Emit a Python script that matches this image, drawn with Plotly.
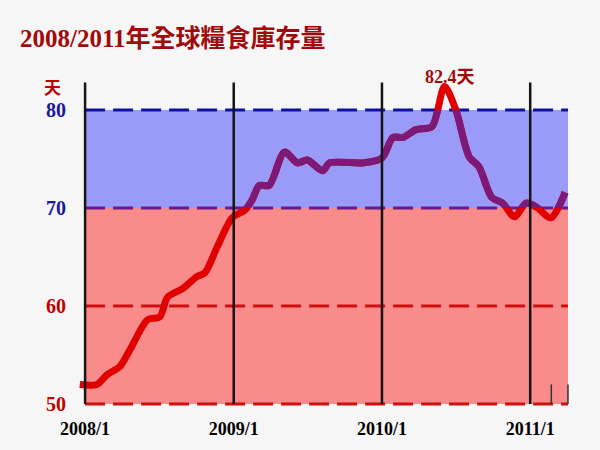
import plotly.graph_objects as go

# ---- data ----
dates = ["2007-12-19", "2008-01-30", "2008-02-24", "2008-03-26", "2008-04-20", "2008-06-03",
         "2008-07-03", "2008-07-22", "2008-08-29", "2008-10-02", "2008-10-22", "2008-11-21",
         "2008-12-28", "2009-01-29", "2009-02-15", "2009-03-05", "2009-03-29", "2009-05-06",
         "2009-06-07", "2009-07-01", "2009-08-08", "2009-08-25", "2009-11-15", "2010-01-01",
         "2010-01-28", "2010-02-22", "2010-03-26", "2010-05-04", "2010-06-04", "2010-07-02",
         "2010-08-04", "2010-08-28", "2010-09-28", "2010-10-25", "2010-11-23", "2010-12-22",
         "2011-01-16", "2011-02-21", "2011-03-28"]
stock_days = [52.0, 52.0, 53.0, 53.8, 55.5, 58.6,
              58.9, 60.9, 61.8, 63.0, 63.4, 66.0,
              69.0, 69.8, 70.8, 72.3, 72.3, 75.7,
              74.6, 74.9, 73.8, 74.6, 74.6, 75.1,
              77.2, 77.2, 78.0, 78.3, 82.4, 80.0,
              75.2, 74.2, 71.1, 70.5, 69.1, 70.5,
              70.1, 69.0, 71.6]
year_ticks = ["2008-01-01", "2009-01-01", "2010-01-01", "2011-01-01"]
year_labels = ["2008/1", "2009/1", "2010/1", "2011/1"]
y_ticks = [50, 60, 70, 80]
y_tick_colors = ["#c00000", "#c00000", "#1a1a9a", "#1a1a9a"]
peak_label = "82.4天"
title_text = "2008/2011年全球糧食庫存量"
band_low, band_high = 70, 80

X_START, X_END = "2007-12-17", "2011-04-09"
AREA_END = "2011-04-04"
Y_MIN, Y_MAX = 49.6, 83.06

SERIF = "Liberation Serif, Times New Roman, Noto Sans CJK TC, serif"
RED = "#e00000"
PURPLE = "#7d1a78"

ML, MR, MT, MB = 79, 30, 80, 42
W, H = 600, 450
plot_w = W - ML - MR
plot_h = H - MT - MB

fig = go.Figure()

# full line in red (main subplot)
fig.add_trace(go.Scatter(x=dates, y=stock_days, mode="lines",
                         line=dict(color=RED, width=7, shape="spline", smoothing=0.8),
                         xaxis="x", yaxis="y", hoverinfo="skip", showlegend=False))
# same line in purple on a subplot covering only the 70-80 band (clipped there)
fig.add_trace(go.Scatter(x=dates, y=stock_days, mode="lines",
                         line=dict(color=PURPLE, width=7, shape="spline", smoothing=0.8),
                         xaxis="x2", yaxis="y2", hoverinfo="skip", showlegend=False))

d_lo = (band_low - Y_MIN) / (Y_MAX - Y_MIN)
d_hi = (band_high - Y_MIN) / (Y_MAX - Y_MIN)

shapes = []
shapes.append(dict(type="rect", xref="x", yref="y", x0="2008-01-01", x1=AREA_END,
                   y0=band_low, y1=band_high, fillcolor="#9a9af8", line=dict(width=0), layer="below"))
shapes.append(dict(type="rect", xref="x", yref="y", x0="2008-01-01", x1=AREA_END,
                   y0=50, y1=band_low, fillcolor="#f98b8b", line=dict(width=0), layer="below"))
dash_colors = {50: "#d01010", 60: "#d01010", 70: "#6a1a8a", 80: "#1010a0"}
for v, c in dash_colors.items():
    shapes.append(dict(type="line", xref="x", yref="y", x0="2008-01-01", x1=AREA_END,
                       y0=v, y1=v, line=dict(color=c, width=3, dash="20px,8px"), layer="below"))
for t in year_ticks:
    shapes.append(dict(type="line", xref="x", yref="y", x0=t, x1=t, y0=50, y1=82.8,
                       line=dict(color="#151515", width=2.5), layer="above"))
for t in ["2011-02-22", AREA_END]:
    shapes.append(dict(type="line", xref="x", yref="y", x0=t, x1=t, y0=50, y1=52,
                       line=dict(color="#333333", width=1.5), layer="above"))

annotations = [
    dict(text="<b>" + title_text + "</b>", xref="paper", yref="paper",
         x=(18 - ML) / plot_w, y=1 + (MT - 38) / plot_h,
         xanchor="left", yanchor="middle", showarrow=False,
         font=dict(family=SERIF, size=25, color="#a00a0a")),
    dict(text="<b>天</b>", xref="paper", yref="y", x=(52 - ML) / plot_w, y=82.2,
         xanchor="center", yanchor="middle", showarrow=False,
         font=dict(family=SERIF, size=17, color="#c00000")),
    dict(text="<b>" + peak_label + "</b>", xref="x", yref="paper", x="2010-06-18",
         y=1 + (MT - 77) / plot_h,
         xanchor="center", yanchor="middle", showarrow=False,
         font=dict(family=SERIF, size=18, color="#a00a0a")),
]

fig.update_layout(
    width=W, height=H,
    margin=dict(l=ML, r=MR, t=MT, b=MB),
    paper_bgcolor="#f6f6f6", plot_bgcolor="rgba(0,0,0,0)",
    shapes=shapes, annotations=annotations, showlegend=False,
    xaxis=dict(type="date", range=[X_START, X_END], tickvals=year_ticks,
               ticktext=["<b>" + s + "</b>" for s in year_labels],
               tickfont=dict(family=SERIF, size=18, color="#000000"),
               showgrid=False, zeroline=False, showline=False, ticks="",
               ticklabelstandoff=8),
    yaxis=dict(range=[Y_MIN, Y_MAX], tickvals=y_ticks, domain=[0, 1],
               ticktext=['<b><span style="color:%s">%d</span></b>' % (c, v)
                         for v, c in zip(y_ticks, y_tick_colors)],
               tickfont=dict(family=SERIF, size=20),
               showgrid=False, zeroline=False, showline=False, ticks="",
               ticklabelstandoff=12),
    xaxis2=dict(type="date", matches="x", anchor="y2", visible=False),
    yaxis2=dict(range=[band_low, band_high], domain=[d_lo, d_hi], anchor="x2", visible=False),
)

fig.write_html("out.html", config={"displayModeBar": False},
               post_script="document.body.style.margin='0';")
